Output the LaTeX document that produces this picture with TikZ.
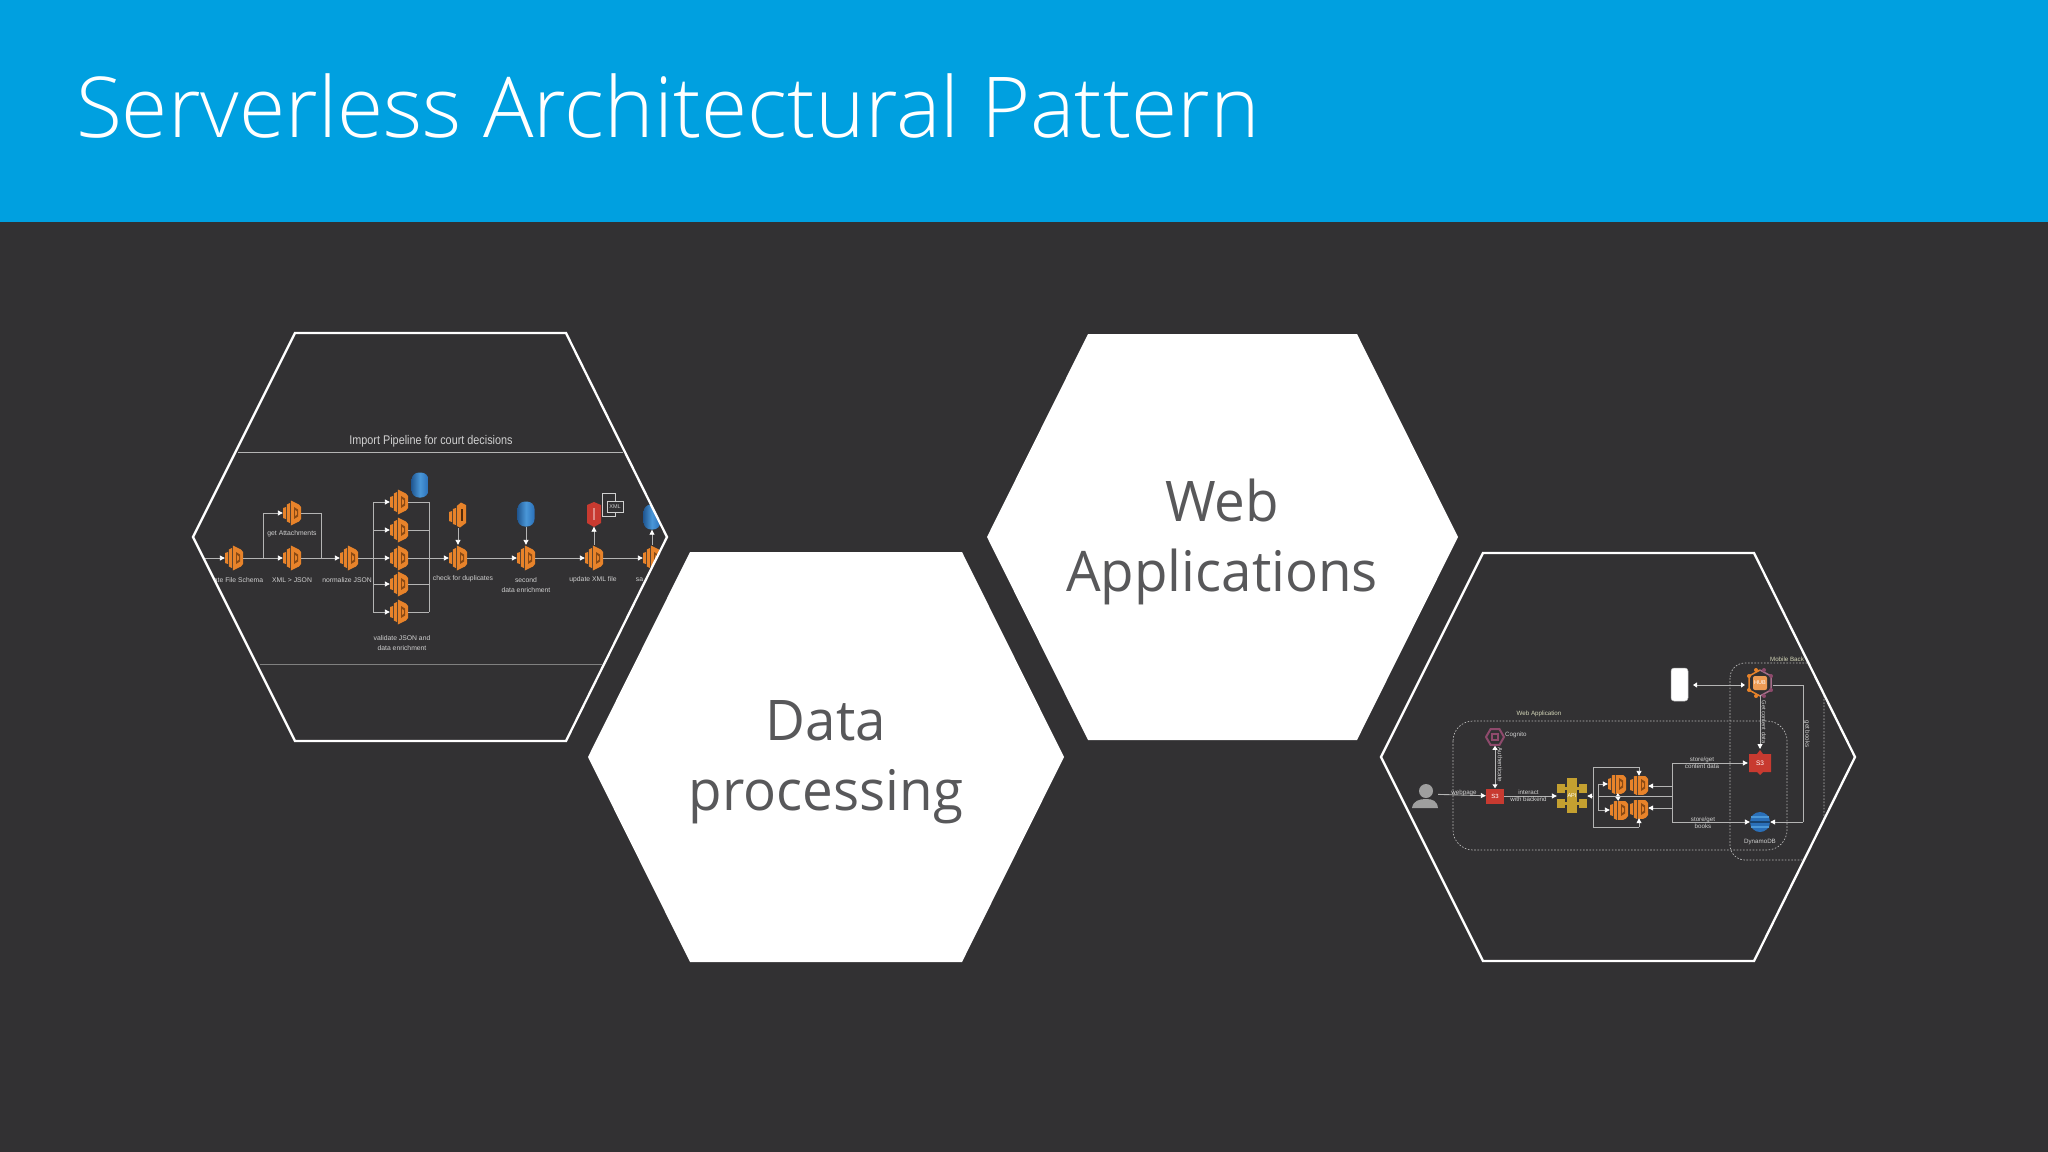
\documentclass[tikz,border=0pt]{standalone}
\usepackage{fontspec}
\setmainfont{Liberation Sans}
\newfontfamily\titlefont[UprightFont={* Light}]{Open Sans}
\newfontfamily\hexfont{Open Sans}
\usetikzlibrary{arrows.meta,calc,shapes.geometric}
\definecolor{bgc}{HTML}{323133}
\definecolor{headc}{HTML}{00A0E0}
\definecolor{hextxt}{HTML}{58585A}
\definecolor{lamc}{HTML}{E8832A}
\definecolor{lamd}{HTML}{8A4A14}
\definecolor{linec}{HTML}{B4B4B4}
\definecolor{txtc}{HTML}{D0D0D0}
\definecolor{dbc}{HTML}{2A6FB8}
\definecolor{dbl}{HTML}{4A97D8}
\definecolor{s3c}{HTML}{C83A30}
\definecolor{apic}{HTML}{C4A030}
\definecolor{cogc}{HTML}{8E4A6C}
\definecolor{greenl}{HTML}{D4D6B8}
\newcommand{\lamicon}[1]{%
  \begin{scope}[shift={(path picture bounding box.center)},scale=#1]
    \fill[lamc] (-9,-5) -- (-6,-6) -- (-6,6) -- (-9,5) -- cycle;
    \fill[lamc] (-5.2,-8.5) -- (-2,-10) -- (-2,10) -- (-5.2,8.5) -- cycle;
    \fill[lamc] (-1.2,-12.5) -- (7,-8.5) -- (9,-6) -- (9,6) -- (7,8.5) -- (-1.2,12.5) -- cycle;
    \fill[lamd] (2,-6) -- (6,-3.5) -- (6,3.5) -- (2,6) -- cycle;
    \fill[lamc] (3.2,-3) -- (4.8,-1.5) -- (4.8,1.5) -- (3.2,3) -- cycle;
  \end{scope}}
\newcommand{\lamflip}{%
  \begin{scope}[shift={(path picture bounding box.center)}]
    \fill[lamc] (-9,-3) -- (-6,-4) -- (-6,7) -- (-9,6) -- cycle;
    \fill[lamc] (-5.2,-6) -- (-2,-7) -- (-2,10) -- (-5.2,9) -- cycle;
    \fill[lamc] (-1.2,-9) -- (3,-12.5) -- (8,-10) -- (8,8) -- (2,12.5) -- (-1.2,11) -- cycle;
    \fill[lamd!60!black] (2.5,-6) rectangle (5,6);
  \end{scope}}
\tikzset{
  x=1pt,y=-1pt,
  lamb/.style={minimum width=18pt,minimum height=26pt,inner sep=0pt,path picture={\lamicon{1}}},
  lamsm/.style={minimum width=18pt,minimum height=18pt,inner sep=0pt,path picture={\lamicon{0.7}}},
  lamfl/.style={minimum width=18pt,minimum height=26pt,inner sep=0pt,path picture={\lamflip}},
  dbnode/.style={minimum width=17pt,minimum height=25pt,inner sep=0pt,rounded corners=7.5pt,left color=dbc!80!black,right color=dbc,middle color=dbl},
  wire/.style={draw=linec,line width=0.9pt},
  arr/.style={wire,-{Triangle[length=5pt,width=5pt,fill=white,color=white]}},
  darr/.style={wire,{Triangle[length=4pt,width=5pt,fill=white,color=white]}-{Triangle[length=4pt,width=5pt,fill=white,color=white]}},
  lbl/.style={text=txtc,inner sep=0pt,align=center,font=\fontsize{6.8}{10}\selectfont},
  tiny/.style={text=txtc,inner sep=0pt,align=center,font=\fontsize{6.2}{7.2}\selectfont},
  dashbox/.style={draw=txtc!85!bgc,line width=0.7pt,dash pattern=on 1.6pt off 1.6pt},
  hexfill/.style={fill=white},
  hexline/.style={draw=white,line width=2.3pt,line join=miter},
  hexlabel/.style={text=hextxt,inner sep=0pt,align=center,xscale=0.977,font=\hexfont\fontsize{56}{70}\selectfont},
  jn/.style={inner sep=0pt,minimum size=0pt},
}
\begin{document}
\begin{tikzpicture}
\useasboundingbox (0,0) rectangle (2048,1151.6);
\fill[bgc] (-2,-2) rectangle (2050,1156);
\fill[headc] (-2,-2) rectangle (2050,222);
\node[anchor=base west,inner sep=0pt,text=white,font=\titlefont\fontsize{84}{90}\selectfont] (title) at (76,137) {Serverless Architectural Pattern};

% white hexagons
\fill[hexfill] (588,757) -- (690,552) -- (962,552) -- (1064,757) -- (962,962) -- (690,962) -- cycle;
\node[hexlabel] (datatext) at (826,762) {Data\\processing};
\fill[hexfill] (987,537) -- (1088,334) -- (1357,334) -- (1458,537) -- (1357,740) -- (1088,740) -- cycle;
\node[hexlabel] (webtext) at (1222,542) {Web\\Applications};

% ---------- left diagram ----------
\begin{scope}
\clip (193,537) -- (295,333) -- (566,333) -- (667,537) -- (566,741) -- (295,741) -- cycle;
\node[text=txtc,inner sep=0pt,xscale=0.86,font=\fontsize{12.6}{14}\selectfont] (pipetitle) at (431,441) {Import Pipeline for court decisions};
\coordinate (rt1) at (238,452); \coordinate (rt2) at (623,452);
\draw[linec,line width=0.9pt] (rt1) -- (rt2);
\coordinate (rb1) at (260,664); \coordinate (rb2) at (602,664);
\draw[gray,line width=0.7pt] (rb1) -- (rb2);

\node[lamb] (lA) at (234,558) {};
\node[lamb] (lB) at (292,558) {};
\node[lamb] (lC) at (292,513) {};
\node[lamb] (lD) at (349,558) {};
\node[lamb] (v1) at (399,502) {};
\node[lamb] (v2) at (399,530) {};
\node[lamb] (v3) at (399,558) {};
\node[lamb] (v4) at (399,584) {};
\node[lamb] (v5) at (399,612) {};
\node[lamb] (lE) at (458,558) {};
\node[lamfl] (lF) at (458,515) {};
\node[lamb] (lG) at (526,558) {};
\node[lamb] (lH) at (594,558) {};
\node[lamb] (lI) at (652,558) {};
\node[dbnode] (db1) at (420,485) {};
\node[dbnode] (db2) at (526,514) {};
\node[dbnode] (db3) at (652,517) {};
\fill[s3c] (587,505) -- (594,502) -- (601,505) -- (601,523) -- (594,527) -- (587,523) -- cycle;
\node[jn,minimum width=14pt,minimum height=25pt] (s3a) at (594,514) {};
\fill[s3c!60!white] (593,508) rectangle (595,520);
% xml document
\node[draw=txtc,line width=0.9pt,minimum width=13pt,minimum height=23pt,inner sep=0pt] (doc) at (609,505) {};
\node[draw=txtc,fill=bgc,line width=0.9pt,minimum width=16pt,minimum height=11pt,inner sep=0pt,text=txtc,font=\fontsize{5.5}{6}\selectfont] (xml) at (615,507) {XML};

\coordinate (start) at (205,558);
\coordinate (j1) at (263,558);
\coordinate (j1u) at (263,513);
\coordinate (j2) at (321,558);
\coordinate (j2u) at (321,513);
\draw[arr] (start) -- (lA);
\draw[arr] (lA) -- (lB);
\draw[wire] (j1) -- (j1u);
\draw[arr] (j1u) -- (lC);
\draw[wire] (lC) -- (j2u) -- (j2);
\draw[arr] (lB) -- (lD);
\coordinate (bl) at (373,558);
\coordinate (br) at (429,558);
\draw[wire] (lD) -- (bl);
\foreach \n/\y in {v1/502,v2/530,v3/558,v4/584,v5/612}{
  \coordinate (bl\n) at (373,\y);
  \coordinate (br\n) at (429,\y);
  \draw[arr] (bl\n) -- (\n);
  \draw[wire] (\n) -- (br\n);
}
\draw[wire] (blv1) -- (blv5);
\draw[wire] (brv1) -- (brv5);
\draw[arr] (br) -- (lE);
\draw[arr] (lF) -- (lE);
\draw[arr] (lE) -- (lG);
\draw[arr] (db2) -- (lG);
\draw[arr] (lG) -- (lH);
\draw[arr] (lH) -- (s3a);
\draw[arr] (lH) -- (lI);
\draw[arr] (lI) -- (db3);
\end{scope}
\node[lbl] (t1) at (238.5,580) {ate File Schema};
\node[lbl] (t2) at (292,580) {XML > JSON};
\node[lbl] (t3) at (292,534) {get Attachments};
\node[lbl] (t4) at (347,580) {normalize JSON};
\node[lbl] (t5) at (402,643) {validate JSON and\\data enrichment};
\node[lbl] (t6) at (463,579) {check for duplicates};
\node[lbl] (t7) at (526,585) {second\\data enrichment};
\node[lbl] (t8) at (593,580) {update XML file};
\node[lbl] (t9) at (639.5,580) {sa};
\draw[hexline] (193,537) -- (295,333) -- (566,333) -- (667,537) -- (566,741) -- (295,741) -- cycle;

% ---------- right diagram ----------
\begin{scope}
\clip (1381,757) -- (1483,553) -- (1754,553) -- (1855,757) -- (1754,961) -- (1483,961) -- cycle;
\draw[dashbox,rounded corners=20pt] (1453,721) rectangle (1787,850);
\draw[dashbox,rounded corners=15pt] (1730,663) rectangle (1824,860);
\node[tiny,text=greenl] (mobl) at (1787,659) {Mobile Back};
\end{scope}
\node[tiny,text=greenl] (webl) at (1539,714) {Web Application};

% person
\node[jn,minimum width=26pt,minimum height=28pt] (person) at (1425,794) {};
\fill[gray!75] (1426,791) circle (7);
\fill[gray!75] (1412,808) .. controls (1413,801) and (1419,799) .. (1426,799) .. controls (1433,799) and (1437,801) .. (1438,808) -- cycle;
% small s3
\node[minimum width=18pt,minimum height=15pt,inner sep=0pt,fill=s3c,text=white,font=\fontsize{6}{6}\selectfont] (s3w) at (1495,796) {S3};
% cognito
\node[draw=cogc,line width=2pt,regular polygon,regular polygon sides=6,minimum size=18pt,inner sep=0pt] (cog) at (1495,737) {};
\node[draw=cogc,line width=1.3pt,minimum size=6pt,inner sep=0pt] (cogin) at (1495,737) {};
\node[tiny,anchor=west] (cogl) at (1505,735) {Cognito};
\draw[darr] (cog) -- (s3w);
\node[tiny,rotate=-90] (auth) at (1500,765) {Authenticate};
\draw[arr] (person) -- (s3w);
\node[tiny] (webp) at (1464,793) {webpage};
% API
\node[jn,minimum width=30pt,minimum height=34pt] (api) at (1572,796) {};
\fill[apic] (1567,778) rectangle (1577,813);
\fill[apic] (1557,784) rectangle (1565,793);
\fill[apic] (1557,799) rectangle (1565,808);
\fill[apic] (1579,784) rectangle (1587,793);
\fill[apic] (1579,799) rectangle (1587,808);
\fill[apic] (1564,787) rectangle (1580,790);
\fill[apic] (1564,802) rectangle (1580,805);
\node[text=white,inner sep=0pt,font=\fontsize{5.6}{6}\selectfont] (apit) at (1572,796) {API};
\draw[arr] (s3w) -- (api);
\node[tiny] (inter) at (1528.5,795.5) {interact\\with backend};

% lambdas
\node[lamsm] (q1) at (1617,784) {};
\node[lamsm] (q2) at (1639,785) {};
\node[lamsm] (q3) at (1619,810) {};
\node[lamsm] (q4) at (1639,809) {};
\coordinate (o1) at (1593,796);
\coordinate (o2) at (1593,767);
\coordinate (o3) at (1639,767);
\coordinate (o4) at (1593,827);
\coordinate (o5) at (1639,827);
\draw[wire] (o2) -- (o4);
\draw[wire] (o2) -- (o3);
\draw[arr] (o3) -- (q2);
\draw[wire] (o4) -- (o5);
\draw[arr] (o5) -- (q4);
\draw[arr] (o1) -- (api);
\coordinate (p1) at (1598,784);
\coordinate (p2) at (1598,810);
\draw[wire] (p1) -- (p2);
\draw[arr] (p1) -- (q1);
\draw[arr] (p2) -- (q3);
\draw[darr] (q1) -- (q3);
\coordinate (r0) at (1672,796);
\coordinate (r1) at (1672,763);
\coordinate (r2) at (1672,822);
\coordinate (r3) at (1672,786);
\coordinate (r4) at (1672,808);
\coordinate (r5) at (1598,796);
\draw[wire] (r5) -- (r0);
\draw[wire] (r1) -- (r2);
\draw[arr] (r3) -- (q2.east |- r3);
\draw[arr] (r4) -- (q4.east |- r4);
% big s3
\fill[s3c] (1749,754) -- (1757,754) -- (1760,750) -- (1763,754) -- (1771,754) -- (1771,772) -- (1763,772) -- (1760,775) -- (1757,772) -- (1749,772) -- cycle;
\node[jn,minimum width=24pt,minimum height=26pt,text=white,font=\fontsize{6.5}{7}\selectfont] (s3b) at (1760,763) {S3};
% dynamo
\node[circle,minimum size=20pt,inner sep=0pt,fill=dbc] (dyn) at (1760,822) {};
\foreach \d in {-5,0,5}{\draw[dbl,line width=1.1pt] (1751,822+\d) -- (1769,822+\d);}
\draw[dbc!60!black,line width=1.4pt] (1750,822) -- (1770,822);
\node[tiny] (dynl) at (1760,842) {DynamoDB};
\draw[arr] (r1) -- (s3b);
\draw[arr] (r2) -- (dyn);
\node[tiny] (sc) at (1702,763) {store/get\\content data};
\node[tiny] (sb) at (1703,822.5) {store/get\\books};
% hub
\draw[lamc,line width=1.5pt] (1760,670) -- (1749,676) -- (1749,690) -- (1760,696);
\draw[cogc!80!white,line width=1.5pt] (1760,670) -- (1771,676) -- (1771,690) -- (1760,696);
\foreach \px/\py/\c in {1756/670/lamc,1749/676/lamc,1749/690/lamc,1756/696/lamc,1764/670/cogc,1771/676/cogc,1771/690/cogc,1764/696/cogc}{\fill[\c] (\px,\py) circle (2);}
\node[fill=lamc!80!white,minimum size=14pt,inner sep=0pt,rounded corners=2pt,text=white,font=\fontsize{5.5}{6}\selectfont] (hub) at (1760,683) {HUB};
% phone
\node[fill=white,draw=gray!60,line width=0.5pt,rounded corners=3pt,minimum width=17pt,minimum height=33pt,inner sep=0pt] (phone) at (1679.5,684.5) {};
\coordinate (h0) at (1745,685);
\coordinate (ph0) at (1693,685);
\draw[darr] (ph0) -- (h0);
\coordinate (hb) at (1760,695);
\coordinate (hs) at (1760,749);
\draw[arr] (hb) -- (hs);
\node[tiny,rotate=-90,font=\fontsize{5.8}{7}\selectfont] (gc) at (1764,722) {Get content data};
\coordinate (hr) at (1773,685);
\coordinate (hc) at (1803,685);
\coordinate (hd) at (1803,822);
\draw[wire] (hr) -- (hc) -- (hd);
\draw[arr] (hd) -- (dyn);
\node[tiny,rotate=-90] (gb) at (1807,734) {get books};
\draw[hexline] (1381,757) -- (1483,553) -- (1754,553) -- (1855,757) -- (1754,961) -- (1483,961) -- cycle;
\end{tikzpicture}
\end{document}
